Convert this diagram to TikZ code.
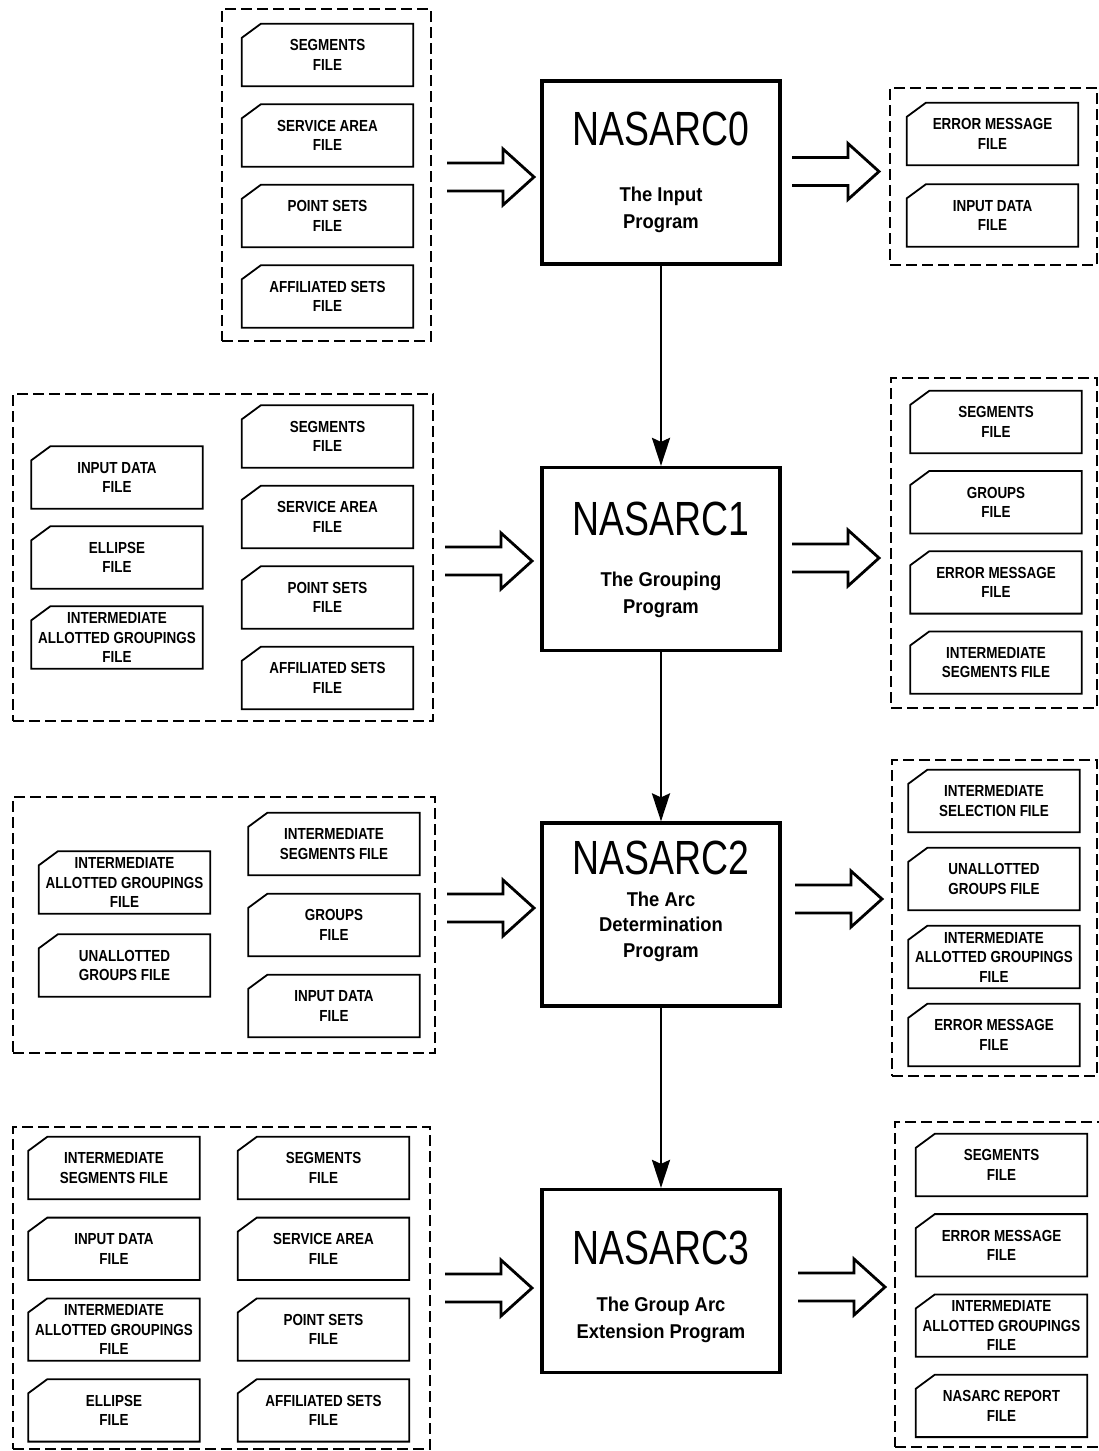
\documentclass[tikz,border=0pt]{standalone}
\usepackage{fontspec}
\newfontfamily\filefont{Liberation Sans}[FakeStretch=0.84]
\newfontfamily\titlefont{Liberation Sans}[FakeStretch=0.78]
\newfontfamily\subfont{Liberation Sans}[FakeStretch=0.92]
\usetikzlibrary{arrows.meta, fit}
\usetikzlibrary{positioning}

\begin{document}
\begin{tikzpicture}[x=1pt, y=-1pt,
    filebox/.style={minimum width=171pt, minimum height=62pt, inner sep=0pt, align=center,
        font=\filefont\bfseries\fontsize{16}{19.5}\selectfont,
        append after command={\pgfextra{\draw[line width=1.8pt, line join=miter]
            ([xshift=19pt]\tikzlastnode.north west) -- (\tikzlastnode.north east)
            -- (\tikzlastnode.south east) -- (\tikzlastnode.south west)
            -- ([yshift=-14pt]\tikzlastnode.north west) -- cycle;}}},
    group/.style={draw, line width=2.8pt, dash pattern=on 11pt off 5pt, inner sep=0pt},
    prog/.style={draw, line width=3.2pt, minimum width=238pt, minimum height=183pt, inner sep=0pt},
    progname/.style={inner sep=0pt, font=\titlefont\fontsize{48}{48}\selectfont},
    progtext/.style={inner sep=0pt, align=center, font=\subfont\bfseries\fontsize{20}{27}\selectfont},
    flow/.style={line width=2.8pt, -{Stealth[length=28pt, width=18pt, inset=4pt]}},
    fatarrow/.pic={\draw[line width=2.8pt, line join=miter]
        (0,-14) -- (56,-14) -- (56,-28) -- (87,0) -- (56,28) -- (56,14) -- (0,14);}
    ]
    \useasboundingbox (0,0) rectangle (1099,1451);

    % the four programs
    \node[prog] (p0) at (661,172.5) {};
    \node[prog] (p1) at (661,559) {};
    \node[prog] (p2) at (661,914.5) {};
    \node[prog] (p3) at (661,1281) {};

    \node[progname, below=32pt of p0.north] (p0name) {NASARC0};
    \node[progtext, below=107pt of p0.north] (p0text) {The Input\\Program};
    \node[progname, below=36pt of p1.north] (p1name) {NASARC1};
    \node[progtext, below=106pt of p1.north] (p1text) {The Grouping\\Program};
    \node[progname, below=19pt of p2.north] (p2name) {NASARC2};
    \node[progtext, below=70pt of p2.north, font=\subfont\bfseries\fontsize{20}{25.5}\selectfont] (p2text) {The Arc\\Determination\\Program};
    \node[progname, below=43pt of p3.north] (p3name) {NASARC3};
    \node[progtext, below=109pt of p3.north] (p3text) {The Group Arc\\Extension Program};

    \draw[flow] (p0) -- (p1);
    \draw[flow] (p1) -- (p2);
    \draw[flow] (p2) -- (p3);

    % NASARC0 files
    \node[group, fit={(222,9) (431,341)}] (in0) {};
    \foreach \f [count=\i] in {{SEGMENTS\\FILE},{SERVICE AREA\\FILE},{POINT SETS\\FILE},{AFFILIATED SETS\\FILE}}
        \node[filebox] (in0-\i) at (327.5,{55+80.5*(\i-1)}) {\f};
    \node[group, fit={(890,88) (1097,265)}] (out0) {};
    \foreach \f [count=\i] in {{ERROR MESSAGE\\FILE},{INPUT DATA\\FILE}}
        \node[filebox] (out0-\i) at (992.5,{134+81.5*(\i-1)}) {\f};
    \pic at (447,177) {fatarrow};
    \pic at (792,171.5) {fatarrow};

    % NASARC1 files
    \node[group, fit={(13,394) (433,721)}] (in1) {};
    \foreach \f [count=\i] in {{INPUT DATA\\FILE},{ELLIPSE\\FILE},{INTERMEDIATE\\ALLOTTED GROUPINGS\\FILE}}
        \node[filebox] (in1a-\i) at (117,{477.5+80*(\i-1)}) {\f};
    \foreach \f [count=\i] in {{SEGMENTS\\FILE},{SERVICE AREA\\FILE},{POINT SETS\\FILE},{AFFILIATED SETS\\FILE}}
        \node[filebox] (in1b-\i) at (327.5,{436.5+80.5*(\i-1)}) {\f};
    \node[group, fit={(891,378) (1097,708)}] (out1) {};
    \foreach \f [count=\i] in {{SEGMENTS\\FILE},{GROUPS\\FILE},{ERROR MESSAGE\\FILE},{INTERMEDIATE\\SEGMENTS FILE}}
        \node[filebox] (out1-\i) at (996,{422+80.2*(\i-1)}) {\f};
    \pic at (445,561) {fatarrow};
    \pic at (792,558) {fatarrow};

    % NASARC2 files
    \node[group, fit={(13,797) (435,1053)}] (in2) {};
    \foreach \f [count=\i] in {{INTERMEDIATE\\ALLOTTED GROUPINGS\\FILE},{UNALLOTTED\\GROUPS FILE}}
        \node[filebox] (in2a-\i) at (124.5,{882.5+83*(\i-1)}) {\f};
    \foreach \f [count=\i] in {{INTERMEDIATE\\SEGMENTS FILE},{GROUPS\\FILE},{INPUT DATA\\FILE}}
        \node[filebox] (in2b-\i) at (334,{844+81*(\i-1)}) {\f};
    \node[group, fit={(892,760) (1097,1076)}] (out2) {};
    \foreach \f [count=\i] in {{INTERMEDIATE\\SELECTION FILE},{UNALLOTTED\\GROUPS FILE},{INTERMEDIATE\\ALLOTTED GROUPINGS\\FILE},{ERROR MESSAGE\\FILE}}
        \node[filebox] (out2-\i) at (994,{801+78*(\i-1)}) {\f};
    \pic at (447,908) {fatarrow};
    \pic at (795,899) {fatarrow};

    % NASARC3 files
    \node[group, fit={(13,1127) (430,1449)}] (in3) {};
    \foreach \f [count=\i] in {{INTERMEDIATE\\SEGMENTS FILE},{INPUT DATA\\FILE},{INTERMEDIATE\\ALLOTTED GROUPINGS\\FILE},{ELLIPSE\\FILE}}
        \node[filebox] (in3a-\i) at (114,{1168+80.8*(\i-1)}) {\f};
    \foreach \f [count=\i] in {{SEGMENTS\\FILE},{SERVICE AREA\\FILE},{POINT SETS\\FILE},{AFFILIATED SETS\\FILE}}
        \node[filebox] (in3b-\i) at (323.5,{1168+80.8*(\i-1)}) {\f};
    \node[group, fit={(895,1122) (1103,1447)}] (out3) {};
    \foreach \f [count=\i] in {{SEGMENTS\\FILE},{ERROR MESSAGE\\FILE},{INTERMEDIATE\\ALLOTTED GROUPINGS\\FILE},{NASARC REPORT\\FILE}}
        \node[filebox] (out3-\i) at (1001.5,{1165+80.3*(\i-1)}) {\f};
    \pic at (445,1288) {fatarrow};
    \pic at (798,1287) {fatarrow};
\end{tikzpicture}
\end{document}
